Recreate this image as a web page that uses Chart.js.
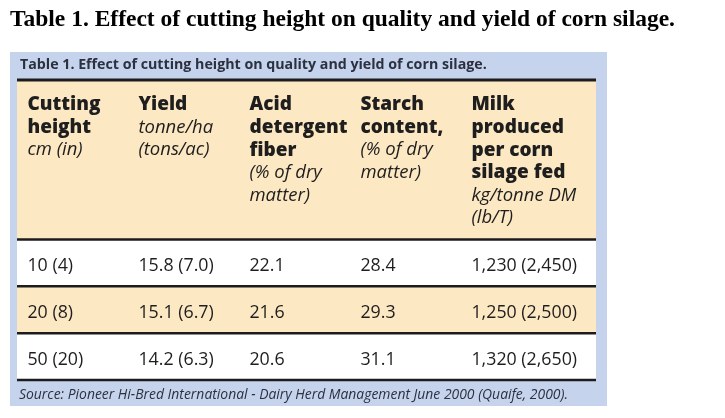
<!DOCTYPE html>
<html>
<head>
<meta charset="utf-8">
<script src="https://cdn.jsdelivr.net/npm/chart.js@4.4.1/dist/chart.umd.min.js"></script>
<style>
  body { margin: 0; background: #fff; }
  canvas { display: block; }
</style>
</head>
<body>
<canvas id="table" width="725" height="418"></canvas>
<script>
const pageTitle = 'Table 1. Effect of cutting height on quality and yield of corn silage.';
const boxTitle = 'Table 1. Effect of cutting height on quality and yield of corn silage.';
const sourceNote = 'Source: Pioneer Hi-Bred International - Dairy Herd Management June 2000 (Quaife, 2000).';

// column headings: bold part, then italic units
const headTitles = [
  ['Cutting', 'height'],
  ['Yield'],
  ['Acid', 'detergent', 'fiber'],
  ['Starch', 'content,'],
  ['Milk', 'produced', 'per corn', 'silage fed']
];
const headUnits = [
  ['cm (in)'],
  ['tonne/ha', '(tons/ac)'],
  ['(% of dry', 'matter)'],
  ['(% of dry', 'matter)'],
  ['kg/tonne DM', '(lb/T)']
];

// values, one per row
const heightCm = [10, 20, 50];
const heightIn = [4, 8, 20];
const yieldTha = [15.8, 15.1, 14.2];
const yieldTac = [7.0, 6.7, 6.3];
const adf = [22.1, 21.6, 20.6];
const starch = [28.4, 29.3, 31.1];
const milkKg = [1230, 1250, 1320];
const milkLb = [2450, 2500, 2650];

const fmt = n => n.toLocaleString('en-US');
const cellText = [
  heightCm.map((v, i) => v + ' (' + heightIn[i] + ')'),
  yieldTha.map((v, i) => v.toFixed(1) + ' (' + yieldTac[i].toFixed(1) + ')'),
  adf.map(v => v.toFixed(1)),
  starch.map(v => v.toFixed(1)),
  milkKg.map((v, i) => fmt(v) + ' (' + fmt(milkLb[i]) + ')')
];

const BLUE = '#c6d3ec';
const CREAM = '#fde8c4';
const INK = '#1e1e1e';
const RULE = '#1c1c1c';

function fitFont(ctx, text, style, family, width) {
  ctx.font = style + ' 20px ' + family;
  const size = 20 * width / ctx.measureText(text).width;
  return style + ' ' + size.toFixed(2) + 'px ' + family;
}

const tablePlugin = {
  id: 'tablePlugin',
  beforeDraw(chart) {
    const { ctx, chartArea: a, scales: { y } } = chart;
    ctx.save();
    ctx.fillStyle = '#fff';
    ctx.fillRect(0, 0, chart.width, chart.height);

    // page title
    ctx.fillStyle = '#000';
    ctx.font = fitFont(ctx, pageTitle, 'bold', '"Liberation Serif", "Times New Roman", serif', 665);
    ctx.textBaseline = 'alphabetic';
    ctx.fillText(pageTitle, 10, 26);

    // blue frame
    ctx.fillStyle = BLUE;
    ctx.fillRect(a.left - 7, a.top - 28, a.right - a.left + 18, a.bottom - a.top + 54);
    ctx.fillStyle = '#2c3140';
    ctx.font = fitFont(ctx, boxTitle, 'bold', '"Open Sans", sans-serif', 467);
    ctx.textBaseline = 'middle';
    ctx.fillText(boxTitle, a.left + 3, a.top - 15);

    // table body
    ctx.fillStyle = CREAM;
    ctx.fillRect(a.left, a.top, a.right - a.left, a.bottom - a.top);
    cellText[0].forEach((_, r) => {
      ctx.fillStyle = r % 2 === 0 ? '#ffffff' : CREAM;
      const y0 = y.getPixelForValue(r - 0.5), y1 = y.getPixelForValue(r + 0.5);
      ctx.fillRect(a.left, y0, a.right - a.left, y1 - y0);
    });

    // source line
    ctx.fillStyle = '#2c3140';
    ctx.font = fitFont(ctx, sourceNote, 'italic', '"Open Sans", sans-serif', 549);
    ctx.fillText(sourceNote, a.left + 2, a.bottom + 15);
    ctx.restore();
  },
  afterDatasetsDraw(chart) {
    const { ctx, chartArea: a, scales: { y } } = chart;
    ctx.save();
    ctx.textBaseline = 'middle';
    ctx.textAlign = 'left';
    ctx.fillStyle = INK;
    chart.data.datasets.forEach((ds, c) => {
      const pts = chart.getDatasetMeta(c).data;
      const x = pts[0].x;
      let line = 0;
      ctx.font = '800 19px "Open Sans", sans-serif';
      headTitles[c].forEach(t => { ctx.fillText(t, x, a.top + 25 + 22.6 * line++); });
      ctx.font = 'italic 18.5px "Open Sans", sans-serif';
      headUnits[c].forEach(t => { ctx.fillText(t, x, a.top + 25 + 22.6 * line++); });
      ctx.font = '17.8px "Open Sans", sans-serif';
      pts.forEach((p, r) => { ctx.fillText(cellText[c][r], p.x, p.y + 3); });
    });

    // horizontal rules
    ctx.strokeStyle = RULE;
    const rules = [a.top].concat(cellText[0].map((_, r) => y.getPixelForValue(r - 0.5)), [a.bottom]);
    rules.forEach((ry, i) => {
      ctx.lineWidth = i === 0 ? 3 : 2.5;
      ctx.beginPath();
      ctx.moveTo(a.left, ry);
      ctx.lineTo(a.right, ry);
      ctx.stroke();
    });
    ctx.restore();
  }
};

new Chart(document.getElementById('table'), {
  type: 'scatter',
  data: {
    datasets: headTitles.map((t, c) => ({
      label: t.join(' '),
      data: cellText[c].map((_, r) => ({ x: c, y: r })),
      pointRadius: 0
    }))
  },
  options: {
    responsive: false,
    animation: false,
    events: [],
    layout: { padding: { left: 17, right: 129, top: 80, bottom: 38 } },
    plugins: { legend: { display: false }, tooltip: { enabled: false } },
    scales: {
      x: { type: 'linear', display: false, min: -0.094, max: 5.122 },
      y: { type: 'linear', display: false, reverse: true, min: -3.9, max: 2.5 }
    }
  },
  plugins: [tablePlugin]
});
</script>
</body>
</html>
